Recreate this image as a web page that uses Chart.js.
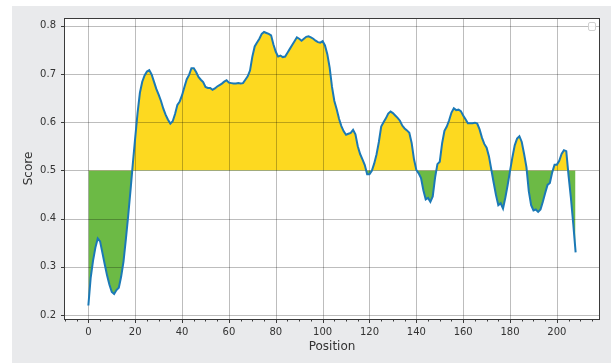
<!DOCTYPE html>
<html>
<head>
<meta charset="utf-8">
<script src="https://cdn.jsdelivr.net/npm/chart.js@4/dist/chart.umd.min.js"></script>
<style>
  html, body { margin: 0; padding: 0; background: #ffffff; }
  #wrap { width: 614px; height: 363px; }
</style>
</head>
<body>
<div id="wrap"><canvas id="chart" width="614" height="363"></canvas></div>
<script>
// Residue positions along the sequence
const positions = Array.from({length: 209}, (_, i) => i);

// Window-averaged score per position
const scores = [
  0.220, 0.278, 0.313, 0.340, 0.359, 0.353, 0.329, 0.305, 0.282, 0.263,
  0.248, 0.244, 0.252, 0.257, 0.280, 0.311, 0.357, 0.406, 0.459, 0.515,
  0.568, 0.619, 0.661, 0.684, 0.697, 0.705, 0.708, 0.699, 0.684, 0.669,
  0.657, 0.644, 0.628, 0.615, 0.605, 0.597, 0.602, 0.617, 0.636, 0.643,
  0.656, 0.673, 0.689, 0.698, 0.712, 0.712, 0.704, 0.694, 0.688, 0.683,
  0.673, 0.671, 0.671, 0.667, 0.670, 0.674, 0.677, 0.680, 0.684, 0.687,
  0.682, 0.681, 0.680, 0.680, 0.681, 0.680, 0.681, 0.688, 0.695, 0.707,
  0.736, 0.757, 0.765, 0.773, 0.783, 0.787, 0.785, 0.783, 0.780, 0.761,
  0.746, 0.736, 0.738, 0.735, 0.736, 0.744, 0.752, 0.760, 0.768, 0.776,
  0.773, 0.769, 0.773, 0.777, 0.778, 0.776, 0.773, 0.769, 0.766, 0.765,
  0.768, 0.759, 0.741, 0.713, 0.673, 0.644, 0.627, 0.607, 0.592, 0.581,
  0.574, 0.576, 0.578, 0.584, 0.575, 0.550, 0.534, 0.523, 0.511, 0.492,
  0.492, 0.499, 0.514, 0.533, 0.559, 0.591, 0.600, 0.608, 0.618, 0.622,
  0.619, 0.614, 0.609, 0.603, 0.593, 0.587, 0.583, 0.578, 0.557, 0.523,
  0.501, 0.494, 0.484, 0.459, 0.440, 0.443, 0.435, 0.446, 0.485, 0.513,
  0.518, 0.556, 0.582, 0.591, 0.604, 0.620, 0.629, 0.625, 0.626, 0.623,
  0.614, 0.606, 0.598, 0.598, 0.598, 0.599, 0.597, 0.585, 0.568, 0.555,
  0.547, 0.529, 0.502, 0.475, 0.449, 0.428, 0.432, 0.421, 0.444, 0.470,
  0.499, 0.527, 0.552, 0.566, 0.571, 0.559, 0.534, 0.507, 0.457, 0.428,
  0.417, 0.419, 0.414, 0.419, 0.435, 0.453, 0.470, 0.474, 0.496, 0.512,
  0.512, 0.520, 0.534, 0.542, 0.540, 0.488, 0.442, 0.388, 0.330
];

const threshold = 0.5;
const xTicks = [0, 20, 40, 60, 80, 100, 120, 140, 160, 180, 200];
const xMinorTicks = Array.from({length: 46}, (_, i) => -10 + i * 5);
const yTicks = [0.2, 0.3, 0.4, 0.5, 0.6, 0.7, 0.8];

const points = positions.map((p, i) => ({x: p, y: scores[i]}));

const FONT = "'DejaVu Sans', sans-serif";
const TEXT = '#333333';

// Figure background, grey panel and white plot area
const backdrop = {
  id: 'backdrop',
  beforeDraw(chart) {
    const {ctx, chartArea: a} = chart;
    ctx.save();
    ctx.fillStyle = '#ffffff';
    ctx.fillRect(0, 0, chart.width, chart.height);
    ctx.fillStyle = '#e9eaec';
    ctx.fillRect(12, 6, 599, 357);
    ctx.fillStyle = '#ffffff';
    ctx.fillRect(a.left, a.top, a.right - a.left, a.bottom - a.top);
    ctx.restore();
  }
};

// Grid drawn over the filled area but beneath the score line
const gridOverFill = {
  id: 'gridOverFill',
  afterDatasetDraw(chart, args) {
    if (args.index !== 1) return;
    const {ctx, chartArea: a, scales: {x, y}} = chart;
    ctx.save();
    ctx.strokeStyle = 'rgba(0,0,0,0.26)';
    ctx.lineWidth = 1;
    ctx.beginPath();
    xTicks.forEach(v => {
      const px = Math.round(x.getPixelForValue(v)) + 0.5;
      ctx.moveTo(px, a.top);
      ctx.lineTo(px, a.bottom);
    });
    yTicks.forEach(v => {
      const py = Math.round(y.getPixelForValue(v)) + 0.5;
      ctx.moveTo(a.left, py);
      ctx.lineTo(a.right, py);
    });
    ctx.stroke();
    ctx.restore();
  }
};

// Axes frame, tick marks and the empty legend box
const frame = {
  id: 'frame',
  afterDraw(chart) {
    const {ctx, chartArea: a, scales: {x, y}} = chart;
    ctx.save();
    ctx.strokeStyle = '#3a3a3a';
    ctx.lineWidth = 1;
    ctx.strokeRect(Math.round(a.left) + 0.5, Math.round(a.top) + 0.5,
                   Math.round(a.right - a.left) - 1, Math.round(a.bottom - a.top));
    ctx.beginPath();
    const by = Math.round(a.bottom) + 0.5;
    xMinorTicks.forEach(v => {
      const px = Math.round(x.getPixelForValue(v)) + 0.5;
      if (px < a.left || px > a.right) return;
      const len = xTicks.includes(v) ? 3.5 : 2;
      ctx.moveTo(px, by);
      ctx.lineTo(px, by + len);
    });
    const lx = Math.round(a.left) + 0.5;
    yTicks.forEach(v => {
      const py = Math.round(y.getPixelForValue(v)) + 0.5;
      ctx.moveTo(lx, py);
      ctx.lineTo(lx - 3.5, py);
    });
    ctx.stroke();

    // empty legend frame in the upper right corner
    ctx.fillStyle = 'rgba(255,255,255,0.8)';
    ctx.strokeStyle = '#d0d0d0';
    ctx.beginPath();
    ctx.roundRect(588.5, 22.5, 7, 8, 1.5);
    ctx.fill();
    ctx.stroke();
    ctx.restore();
  }
};

new Chart(document.getElementById('chart'), {
  type: 'line',
  data: {
    datasets: [
      {
        label: 'score',
        data: points,
        borderColor: '#1b79b6',
        borderWidth: 2,
        pointRadius: 0,
        tension: 0,
        fill: false
      },
      {
        label: 'fill',
        data: points,
        borderColor: 'rgba(0,0,0,0)',
        borderWidth: 0,
        pointRadius: 0,
        tension: 0,
        fill: {value: threshold, above: '#fdd920', below: '#6cba45'}
      }
    ]
  },
  options: {
    responsive: false,
    devicePixelRatio: 1,
    animation: false,
    events: [],
    layout: {padding: {left: 0, top: 18, right: 14, bottom: 0}},
    plugins: {legend: {display: false}, tooltip: {enabled: false}},
    scales: {
      x: {
        type: 'linear',
        min: -10.4,
        max: 218.4,
        afterBuildTicks: s => { s.ticks = xTicks.map(v => ({value: v})); },
        afterFit: s => { s.height = 44; },
        grid: {display: false, drawTicks: false},
        border: {display: false},
        ticks: {
          autoSkip: false, maxRotation: 0, padding: 7,
          color: TEXT, font: {family: FONT, size: 10},
          callback: v => String(v)
        },
        title: {
          display: true, text: 'Position', color: TEXT,
          font: {family: FONT, size: 12}, padding: {top: 0, bottom: 9}
        }
      },
      y: {
        type: 'linear',
        min: 0.192,
        max: 0.816,
        afterBuildTicks: s => { s.ticks = yTicks.map(v => ({value: v})); },
        afterFit: s => { s.width = 64; },
        grid: {display: false, drawTicks: false},
        border: {display: false},
        ticks: {
          autoSkip: false, padding: 8,
          color: TEXT, font: {family: FONT, size: 10},
          callback: v => v.toFixed(1)
        },
        title: {
          display: true, text: 'Score', color: TEXT,
          font: {family: FONT, size: 12}, padding: {top: 22, bottom: 0}
        }
      }
    }
  },
  plugins: [backdrop, gridOverFill, frame]
});
</script>
</body>
</html>
